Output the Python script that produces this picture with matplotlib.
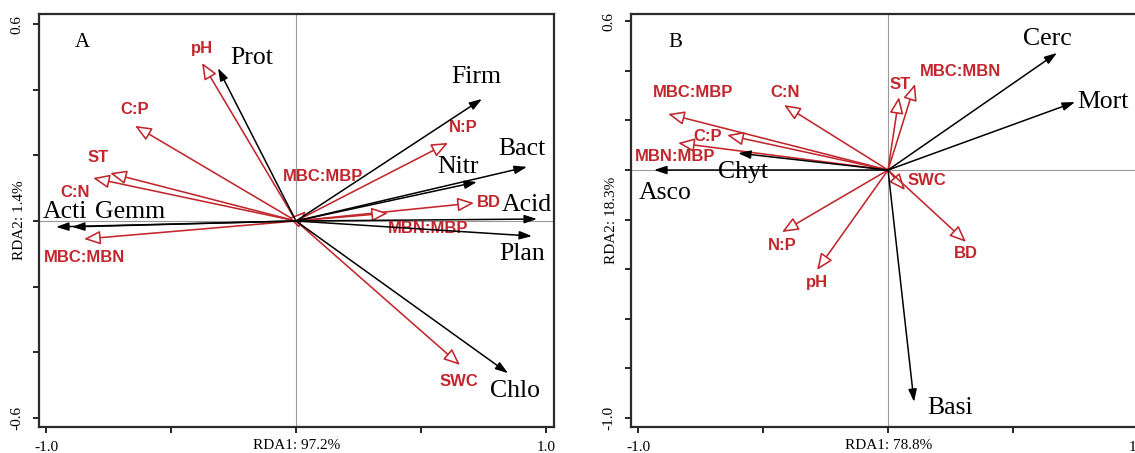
import matplotlib
matplotlib.use('Agg')
from matplotlib import pyplot as plt

# ---- panel A (bacteria) ----
spNamesA = ['Prot', 'Firm', 'Bact', 'Nitr', 'Acid', 'Plan', 'Chlo', 'Acti', 'Gemm']
spXA = [-0.312, 0.744, 0.924, 0.724, 0.964, 0.944, 0.848, -0.960, -0.896]
spYA = [0.466, 0.372, 0.165, 0.119, 0.006, -0.046, -0.464, -0.018, -0.018]

envNamesA = ['pH', 'C:P', 'ST', 'C:N', 'MBC:MBN', 'MBC:MBP', 'N:P', 'BD', 'MBN:MBP', 'SWC']
envXA = [-0.376, -0.644, -0.744, -0.812, -0.848, 0.040, 0.608, 0.712, 0.368, 0.656]
envYA = [0.482, 0.290, 0.146, 0.131, -0.055, 0.030, 0.238, 0.055, 0.024, -0.439]

# ---- panel B (fungi) ----
spNamesB = ['Cerc', 'Mort', 'Basi', 'Asco', 'Chyt']
spXB = [0.676, 0.748, 0.104, -0.936, -0.600]
spYB = [0.472, 0.274, -0.935, 0.000, 0.068]

envNamesB = ['MBC:MBP', 'C:N', 'C:P', 'MBN:MBP', 'N:P', 'pH', 'ST', 'MBC:MBN', 'SWC', 'BD']
envXB = [-0.880, -0.416, -0.644, -0.840, -0.424, -0.284, 0.044, 0.108, 0.068, 0.312]
envYB = [0.226, 0.262, 0.141, 0.109, -0.250, -0.403, 0.294, 0.347, -0.081, -0.290]

axisLabelsA = ['RDA1: 97.2%', 'RDA2: 1.4%']
axisLabelsB = ['RDA1: 78.8%', 'RDA2: 18.3%']

# label placement (pixels from arrow tip), layout only
spOffA = {'Prot': (34, 10), 'Firm': (-6, 22), 'Bact': (-5, 18), 'Nitr': (-19, 15),
          'Acid': (-10, 14), 'Plan': (-10, -18), 'Chlo': (7, -18),
          'Acti': (9, 15), 'Gemm': (58, 15)}
envOffA = {'pH': (0, 14), 'C:P': (0, 16), 'ST': (-12, 16), 'C:N': (-18, -14),
           'MBC:MBN': (0, -18), 'MBC:MBP': (17, 35), 'N:P': (15, 15),
           'BD': (15, 0), 'MBN:MBP': (40, -15), 'SWC': (-1, -17)}
spOffB = {'Cerc': (-10, 14), 'Mort': (28, 0), 'Basi': (36, -6),
          'Asco': (11, -23), 'Chyt': (5, -19)}
envOffB = {'MBC:MBP': (25, 21), 'C:N': (1, 13), 'C:P': (-19, -1), 'MBN:MBP': (-3, -14),
           'N:P': (0, -13), 'pH': (0, -13), 'ST': (1, 13), 'MBC:MBN': (45, 12),
           'SWC': (22, 10), 'BD': (0, -12)}

RED = '#c1272d'
SERIF = 'Liberation Serif'
SANS = 'Liberation Sans'


def drawPanel(ax, letter, spNames, spX, spY, spOff, envNames, envX, envY, envOff,
              axisLabels, ylim, yticks):
    ax.set_xlim(-1.028, 1.032)
    ax.set_ylim(ylim)
    ax.axhline(0, color='#9a9a9a', lw=0.8, zorder=0)
    ax.axvline(0, color='#9a9a9a', lw=0.8, zorder=0)

    # environmental arrows (open heads)
    for i in range(len(envNames)):
        ax.annotate('', xy=(envX[i], envY[i]), xytext=(0, 0),
                    arrowprops=dict(arrowstyle='-|>,head_length=1.0,head_width=0.42',
                                    edgecolor=RED, facecolor='white', lw=1.15,
                                    shrinkA=0, shrinkB=0, mutation_scale=10))
        ax.annotate(envNames[i], xy=(envX[i], envY[i]), xytext=envOff[envNames[i]],
                    textcoords='offset pixels', ha='center', va='center',
                    color=RED, fontsize=12, fontweight='bold', family=SANS)

    # species arrows (filled heads)
    for i in range(len(spNames)):
        ax.annotate('', xy=(spX[i], spY[i]), xytext=(0, 0),
                    arrowprops=dict(arrowstyle='-|>,head_length=0.75,head_width=0.25',
                                    color='black', lw=1.1,
                                    shrinkA=0, shrinkB=0, mutation_scale=10))
        ax.annotate(spNames[i], xy=(spX[i], spY[i]), xytext=spOff[spNames[i]],
                    textcoords='offset pixels', ha='center', va='center',
                    color='black', fontsize=18.5, family=SERIF)

    ax.text(0.085, 0.932, letter, transform=ax.transAxes, ha='center', va='center',
            fontsize=15, family=SERIF)

    ax.set_xticks([-1.0, -0.5, 0.0, 0.5, 1.0])
    ax.set_xticklabels(['-1.0', '', '', '', '1.0'], family=SERIF, fontsize=11)
    ax.set_yticks(yticks)
    ylabs = [''] * len(yticks)
    ylabs[0] = '%.1f' % yticks[0]
    ylabs[-1] = '%.1f' % yticks[-1]
    ax.set_yticklabels(ylabs, family=SERIF, fontsize=11, rotation=90, va='center')
    ax.tick_params(axis='x', direction='out', length=4, width=1.2, pad=6)
    ax.tick_params(axis='y', direction='out', length=4, width=1.2, pad=7)

    ax.set_xlabel(axisLabels[0], family=SERIF, fontsize=11)
    ax.set_ylabel(axisLabels[1], family=SERIF, fontsize=11)
    ax.xaxis.set_label_coords(0.5, -0.029)
    ax.yaxis.set_label_coords(-0.025, 0.5)

    for s in ax.spines.values():
        s.set_linewidth(1.6)
        s.set_color('#2b2b2b')


fig = plt.figure(figsize=(11.35, 4.53), dpi=100)
axA = fig.add_axes([0.0344, 0.0574, 0.4537, 0.9117])
axB = fig.add_axes([0.556, 0.0574, 0.4537, 0.9117])

drawPanel(axA, 'A', spNamesA, spXA, spYA, spOffA, envNamesA, envXA, envYA, envOffA,
          axisLabelsA, (-0.628, 0.631), [-0.6, -0.4, -0.2, 0.0, 0.2, 0.4, 0.6])
drawPanel(axB, 'B', spNamesB, spXB, spYB, spOffB, envNamesB, envXB, envYB, envOffB,
          axisLabelsB, (-1.036, 0.629), [-1.0, -0.8, -0.6, -0.4, -0.2, 0.0, 0.2, 0.4, 0.6])

fig.savefig('out.png', dpi=100)
